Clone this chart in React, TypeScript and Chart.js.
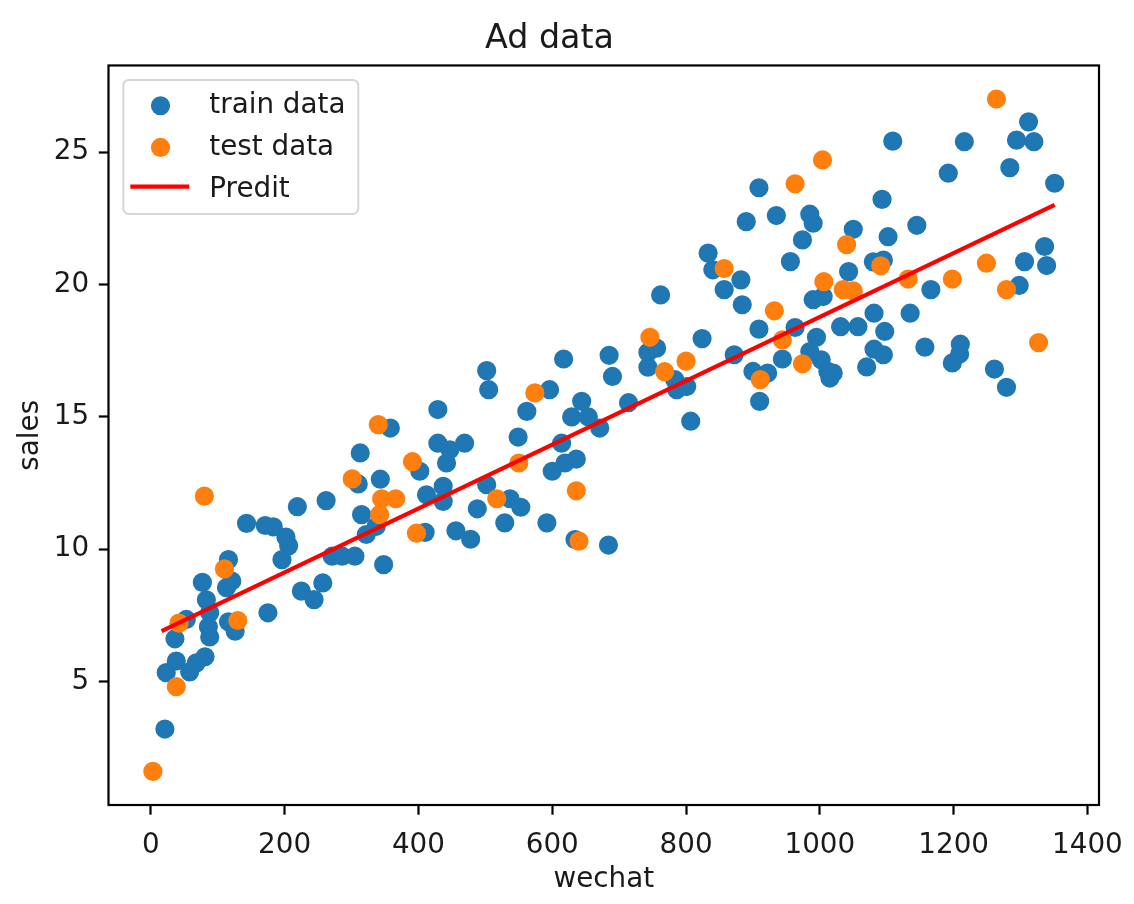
import { useEffect, useRef } from 'react';
import { Chart, registerables } from 'chart.js';

Chart.register(...registerables);

const chartTitle = 'Ad data';
const xLabel = 'wechat';
const yLabel = 'sales';
const seriesLabels = ['train data', 'test data', 'Predit'];

const trainX = [
  21, 23, 36, 38, 53, 58, 68, 77, 81, 83, 86, 88, 88, 113, 116, 116, 121, 126, 143, 171,
  183, 175, 196, 202, 206, 219, 225, 244, 257, 262, 271, 286, 305, 310, 313, 315, 322, 337, 343, 348,
  358, 402, 410, 412, 429, 429, 437, 437, 442, 447, 469, 456, 478, 488, 502, 505, 502, 529, 537, 553,
  549, 562, 592, 596, 600, 614, 617, 619, 636, 634, 629, 654, 644, 671, 684, 685, 690, 714, 743, 743,
  756, 762, 783, 786, 801, 807, 824, 833, 840, 857, 872, 882, 884, 890, 909, 909, 900, 922, 910, 935,
  944, 956, 963, 974, 985, 990, 985, 990, 995, 1002, 1005, 1012, 1020, 1015, 1031, 1057, 1043, 1050, 1070, 1081,
  1081, 1080, 1095, 1097, 1093, 1095, 1102, 1109, 1135, 1145, 1157, 1166, 1192, 1198, 1209, 1210, 1216, 1261, 1279, 1284,
  1294, 1298, 1306, 1312, 1320, 1336, 1339, 1351,
];
const trainY = [
  3.2, 5.33, 6.61, 5.77, 7.34, 5.36, 5.7, 8.74, 5.93, 8.08, 7.06, 7.59, 6.68, 8.54, 9.6, 7.25, 8.79, 6.9, 10.97, 10.89,
  10.84, 7.59, 9.6, 10.45, 10.12, 11.6, 8.41, 8.09, 8.72, 11.83, 9.73, 9.73, 9.73, 12.46, 13.63, 11.3, 10.55, 10.86, 12.64, 9.41,
  14.57, 12.94, 10.63, 12.05, 15.27, 14.0, 12.37, 11.8, 13.25, 13.75, 14.0, 10.69, 10.37, 11.52, 16.74, 16.02, 12.43, 10.99, 11.9, 11.58,
  14.23, 15.2, 10.99, 16.02, 12.94, 14.0, 17.18, 13.25, 13.4, 10.36, 14.99, 14.99, 15.58, 14.57, 10.15, 17.32, 16.52, 15.53, 17.43, 16.87,
  17.59, 19.6, 16.4, 16.02, 16.14, 14.83, 17.95, 21.18, 20.55, 19.8, 17.34, 20.17, 19.23, 22.37, 23.65, 18.31, 16.71, 16.65, 15.58, 22.6,
  17.18, 20.86, 18.37, 21.68, 22.65, 22.31, 17.46, 19.42, 18.0, 17.15, 19.54, 16.71, 16.65, 16.46, 18.4, 18.4, 20.48, 22.08, 16.88, 18.91,
  17.55, 20.85, 17.34, 18.22, 23.21, 20.92, 21.8, 25.41, 18.91, 22.23, 17.63, 19.8, 24.2, 17.03, 17.37, 17.74, 25.39, 16.8, 16.11, 24.41,
  25.45, 19.96, 20.86, 26.14, 25.39, 21.43, 20.71, 23.82,
];

const testX = [
  80, 42, 38, 3, 110, 130, 340, 391, 301, 345, 366, 342, 397, 746, 574, 550, 517, 636, 640, 768,
  857, 1006, 932, 800, 944, 974, 911, 1264, 1004, 963, 1040, 1091, 1035, 1050, 1132, 1198, 1249, 1279, 1327,
];
const testY = [
  12.0, 7.2, 4.8, 1.6, 9.25, 7.3, 14.7, 13.3, 12.65, 11.9, 11.9, 11.3, 10.6, 18.0, 15.9, 13.25, 11.9, 12.2, 10.3, 16.7,
  20.6, 20.1, 19.0, 17.1, 17.9, 17.0, 16.4, 27.0, 24.7, 23.8, 21.5, 20.7, 19.8, 19.75, 20.2, 20.2, 20.8, 19.8, 17.8,
];

const lineX = [16, 1351];
const lineY = [6.9, 23.0];

const xTicks = [0, 200, 400, 600, 800, 1000, 1200, 1400];
const yTicks = [5, 10, 15, 20, 25];

const BLUE = '#1f77b4';
const ORANGE = '#ff7f0e';
const RED = '#ff0000';
const FONT = 'DejaVu Sans';

const framePlugin = {
  id: 'frame',
  afterDraw(chart: any) {
    const { ctx, chartArea: a } = chart;
    ctx.save();
    ctx.strokeStyle = '#000';
    ctx.lineWidth = 2.2;
    ctx.strokeRect(a.left, a.top, a.right - a.left, a.bottom - a.top);
    ctx.restore();
  },
};

const legendPlugin = {
  id: 'mplLegend',
  afterDatasetsDraw(chart: any) {
    const { ctx, chartArea: a } = chart;
    const x0 = a.left + 14.8;
    const y0 = a.top + 14.5;
    const w = 235;
    const h = 134;
    ctx.save();
    ctx.beginPath();
    ctx.roundRect(x0, y0, w, h, 5.5);
    ctx.fillStyle = 'rgba(255,255,255,0.8)';
    ctx.fill();
    ctx.strokeStyle = 'rgba(204,204,204,0.8)';
    ctx.lineWidth = 2;
    ctx.stroke();

    ctx.font = `27.8px "${FONT}"`;
    ctx.fillStyle = '#000';
    ctx.textBaseline = 'alphabetic';
    ctx.textAlign = 'left';
    const colors = [BLUE, ORANGE];
    for (let i = 0; i < 3; i++) {
      const base = y0 + 33.3 + i * 41.7;
      if (i < 2) {
        ctx.beginPath();
        ctx.arc(x0 + 37.2, base - 7.5, 9.6, 0, Math.PI * 2);
        ctx.fillStyle = colors[i];
        ctx.fill();
      } else {
        ctx.beginPath();
        ctx.moveTo(x0 + 7, base - 10);
        ctx.lineTo(x0 + 66, base - 10);
        ctx.strokeStyle = RED;
        ctx.lineWidth = 4.2;
        ctx.stroke();
      }
      ctx.fillStyle = '#1a1a1a';
      ctx.fillText(seriesLabels[i], x0 + 86, base);
    }
    ctx.restore();
  },
};

export default function App() {
  const ref = useRef<HTMLCanvasElement>(null);
  useEffect(() => {
    document.body.style.margin = '0';
    const canvas = ref.current;
    if (!canvas) return;
    const tickFont = { family: FONT, size: 27.8 };
    const chart = new Chart(canvas, {
      type: 'scatter',
      data: {
        datasets: [
          {
            label: seriesLabels[0],
            data: trainX.map((x, i) => ({ x, y: trainY[i] })),
            backgroundColor: BLUE,
            borderColor: BLUE,
            borderWidth: 2.4,
            pointRadius: 8.4,
            order: 3,
          },
          {
            label: seriesLabels[1],
            data: testX.map((x, i) => ({ x, y: testY[i] })),
            backgroundColor: ORANGE,
            borderColor: ORANGE,
            borderWidth: 2.4,
            pointRadius: 8.4,
            order: 2,
          },
          {
            label: seriesLabels[2],
            data: lineX.map((x, i) => ({ x, y: lineY[i] })),
            showLine: true,
            borderColor: RED,
            backgroundColor: RED,
            borderWidth: 4.2,
            pointRadius: 0,
            order: 1,
          } as any,
        ],
      },
      options: {
        responsive: false,
        animation: false,
        devicePixelRatio: 1,
        layout: { padding: { left: 0, right: 35, top: 0, bottom: 0 } },
        plugins: {
          legend: { display: false },
          tooltip: { enabled: false },
          title: {
            display: true,
            text: chartTitle,
            color: '#1a1a1a',
            font: { family: FONT, size: 33.3, weight: 'normal' },
            padding: { top: 19, bottom: 6.5 },
          },
        },
        scales: {
          x: {
            type: 'linear',
            position: 'bottom',
            min: -63.3,
            max: 1417.3,
            afterBuildTicks: (s: any) => {
              s.ticks = xTicks.map((v) => ({ value: v }));
            },
            afterFit: (s: any) => {
              s.height = 99;
              s.paddingLeft = 0;
              s.paddingRight = 0;
            },
            ticks: {
              color: '#1a1a1a',
              font: tickFont,
              padding: 14.5,
              maxRotation: 0,
              autoSkip: false,
              callback: (v: any) => String(v),
            },
            grid: {
              drawOnChartArea: false,
              drawTicks: true,
              tickLength: 9.7,
              tickWidth: 2.2,
              tickColor: '#000',
            },
            border: { display: false },
            title: {
              display: true,
              text: xLabel,
              color: '#1a1a1a',
              font: tickFont,
              padding: { top: 0, bottom: 8 },
            },
          },
          y: {
            type: 'linear',
            position: 'left',
            min: 0.33,
            max: 28.27,
            afterBuildTicks: (s: any) => {
              s.ticks = yTicks.map((v) => ({ value: v }));
            },
            afterFit: (s: any) => {
              s.width = 108.5;
              s.paddingTop = 0;
              s.paddingBottom = 0;
            },
            ticks: {
              color: '#1a1a1a',
              font: tickFont,
              padding: 9.7,
              autoSkip: false,
              callback: (v: any) => String(v),
            },
            grid: {
              drawOnChartArea: false,
              drawTicks: true,
              tickLength: 9.7,
              tickWidth: 2.2,
              tickColor: '#000',
            },
            border: { display: false },
            title: {
              display: true,
              text: yLabel,
              color: '#1a1a1a',
              font: tickFont,
              padding: { top: 14.3, bottom: 0 },
            },
          },
        },
      },
      plugins: [legendPlugin, framePlugin],
    });
    return () => chart.destroy();
  }, []);
  return (
    <div style={{ width: 1134, height: 904 }}>
      <canvas ref={ref} width={1134} height={904} style={{ width: 1134, height: 904, display: 'block' }} />
    </div>
  );
}
